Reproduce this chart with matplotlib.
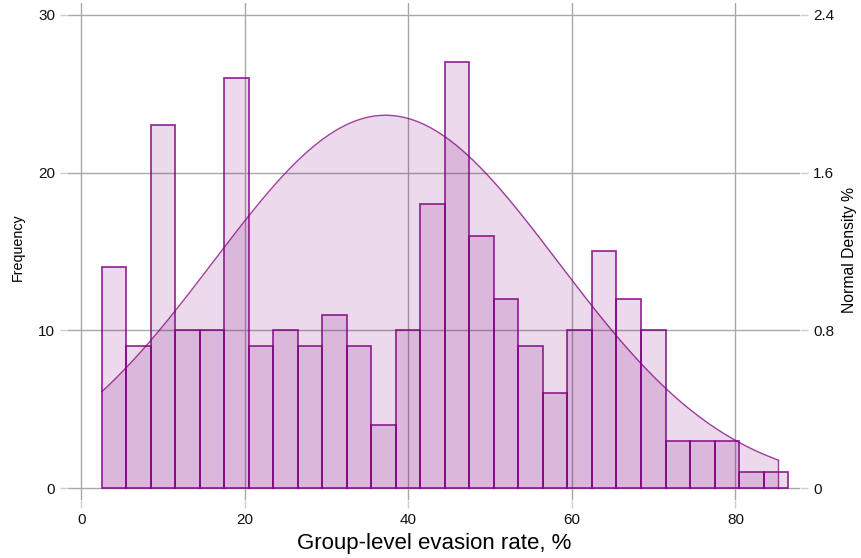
import numpy as np
import matplotlib
matplotlib.use("Agg")
import matplotlib.pyplot as plt

plt.rcParams['font.family'] = ['Liberation Sans', 'DejaVu Sans']

# histogram of group-level evasion rate (bins of 3 points)
bin_start = 2.45
bin_width = 3.0
counts = [14, 9, 23, 10, 10, 26, 9, 10, 9, 11, 9, 4, 10, 18,
          27, 16, 12, 9, 6, 10, 15, 12, 10, 3, 3, 3, 1, 1]

# fitted normal curve parameters
rate_mean = 37.2
rate_sd = 21.1
rate_min = 2.5
rate_max = 85.2

x_ticks = [0, 20, 40, 60, 80]
freq_ticks = [0, 10, 20, 30]
dens_ticks = [0, 0.8, 1.6, 2.4]
dens_labels = ["0", "0.8", "1.6", "2.4"]

PURPLE = (0.5, 0.0, 0.5)
GRID = "#a8a8a8"
TICK = "#cfcfcf"

fig = plt.figure(figsize=(8.62, 5.58), dpi=100)
ax = fig.add_axes([68 / 862, 58 / 558, 732 / 862, 497 / 558])

edges = [bin_start + i * bin_width for i in range(len(counts))]
ax.bar(edges, counts, width=bin_width, align="edge",
       facecolor=PURPLE + (0.15,), edgecolor=PURPLE + (0.8,),
       linewidth=1.3, zorder=2)

ax.set_xlim(-1.65, 87.9)
ylo, yhi = -0.76, 30.75
ax.set_ylim(ylo, yhi)
ax.set_xticks(x_ticks)
ax.set_yticks(freq_ticks)
ax.grid(True, color=GRID, linewidth=1.0, zorder=0)
ax.set_axisbelow(True)
for s in ax.spines.values():
    s.set_visible(False)
ax.tick_params(axis="both", length=5.8, width=1.0, color=TICK,
               labelsize=11, pad=3.5, labelcolor="#111111")

# normal density on the right axis (percent)
ax2 = ax.twinx()
scale = 2.4 / 30
ax2.set_ylim(ylo * scale, yhi * scale)
xs = np.linspace(rate_min, rate_max, 400)
ys = 100 * np.exp(-0.5 * ((xs - rate_mean) / rate_sd) ** 2) / (rate_sd * np.sqrt(2 * np.pi))
ax2.fill_between(xs, 0, ys, color=PURPLE, alpha=0.15, linewidth=0)
ax2.plot(xs, ys, color=PURPLE, alpha=0.75, linewidth=1.0)
ax2.plot([rate_max, rate_max], [0, ys[-1]], color=PURPLE, alpha=0.75, linewidth=1.0)
ax2.set_yticks(dens_ticks)
ax2.set_yticklabels(dens_labels)
for s in ax2.spines.values():
    s.set_visible(False)
ax2.tick_params(axis="y", length=5.8, width=1.0, color=TICK,
                labelsize=11, pad=3.5, labelcolor="#111111")

fig.text(18 / 862, 1 - 247 / 558, "Frequency", rotation=90,
         ha="center", va="center", fontsize=10.3)
fig.text(850 / 862, 1 - 250 / 558, "Normal Density %", rotation=90,
         ha="center", va="center", fontsize=11.3)
fig.text(434 / 862, 1 - 543 / 558, "Group-level evasion rate, %",
         ha="center", va="center", fontsize=16)

fig.savefig("out.png", dpi=100)
